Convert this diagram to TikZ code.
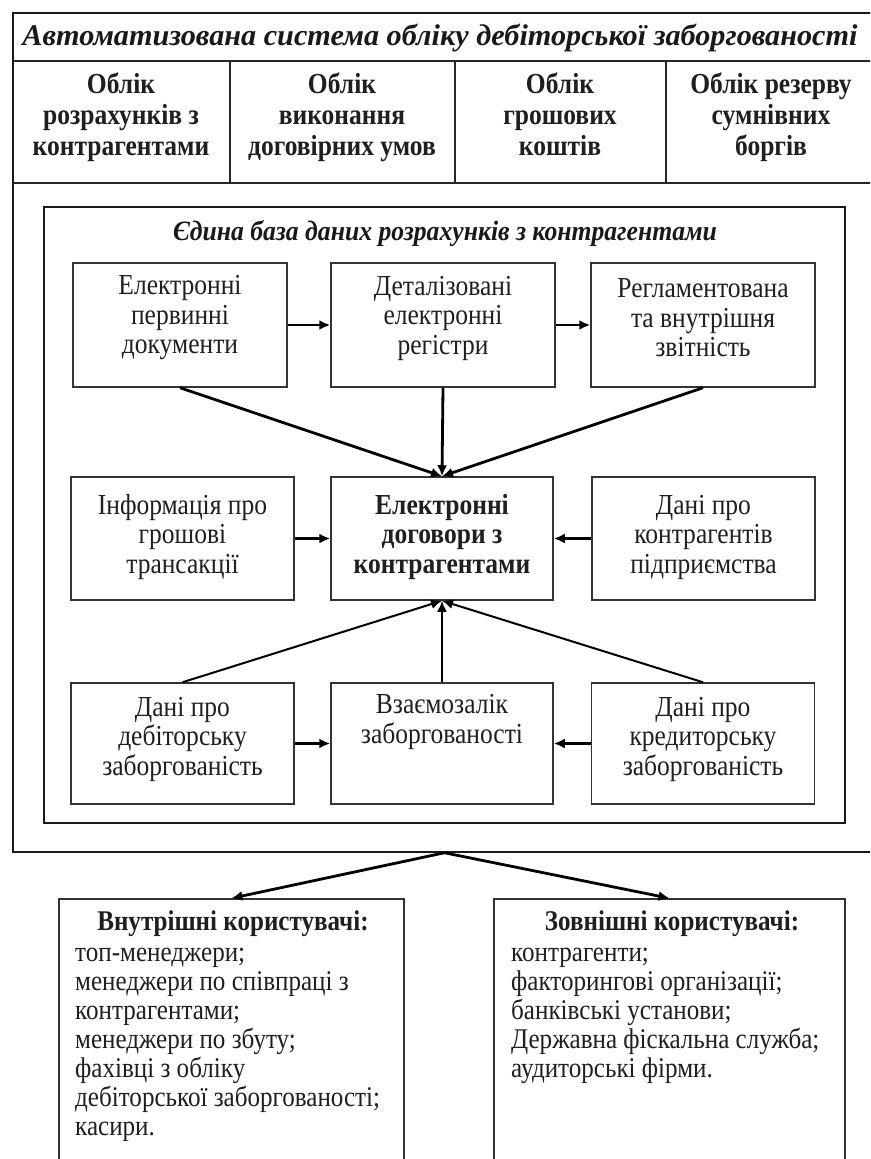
\documentclass[tikz,border=0pt]{standalone}
\usepackage{fontspec}
\usepackage{graphicx}
\setmainfont{Liberation Serif}[FakeStretch=0.88]
\usetikzlibrary{arrows.meta}
\newcommand\fsN{\fontsize{29pt}{29.5pt}\selectfont\lineskiplimit=-20pt\relax}
\newcommand\fsH{\fontsize{29pt}{31pt}\selectfont\lineskiplimit=-20pt\relax\bfseries}
\newcommand\fsU{\fontsize{28.5pt}{29pt}\selectfont\lineskiplimit=-20pt\relax}
\tikzset{
  frame/.style={draw=black!90, line width=1.5pt, rectangle, inner sep=0pt},
  box/.style={draw=black!80, line width=1.5pt, rectangle, inner sep=0pt},
  txt/.style={align=center, font=\fsN, text=black!88, inner sep=0pt},
  htxt/.style={align=center, font=\fsH, text=black!88, inner sep=0pt, anchor=north},
  utxt/.style={align=left, font=\fsU, text=black!88, inner sep=0pt},
  arr/.style={line width=2.8pt, -{Latex[length=11pt,width=10pt]}},
  thinarr/.style={line width=2pt, -{Latex[length=11pt,width=10pt]}},
  rule/.style={draw=black!85, line width=1.5pt},
}
\begin{document}
\begin{tikzpicture}[x=1pt,y=-1pt]
\useasboundingbox (0,0) rectangle (870,1159);
\clip (0,0) rectangle (870,1159);
\fill[white] (0,0) rectangle (870,1159);

% outer frame
\node[frame, minimum width=863pt, minimum height=839pt] (outer) at (444.5,432.5) {};
\draw[rule] (13,61) -- (876,61);
\draw[rule] (13,183) -- (876,183);
\draw[rule] (230,61) -- (230,183);
\draw[rule] (455,61) -- (455,183);
\draw[rule] (666,61) -- (666,183);

\node[inner sep=0pt, text=black!90, font=\fontsize{30pt}{30pt}\selectfont\bfseries\itshape] (title) at (440,38)
  {\resizebox{835pt}{\height}{Автоматизована система обліку дебіторської заборгованості}};

\node[htxt] (c1) at (121,73) {Облік\\розрахунків з\\контрагентами};
\node[htxt] (c2) at (342,73) {Облік\\виконання\\договірних умов};
\node[htxt] (c3) at (560,73) {Облік\\грошових\\коштів};
\node[htxt] (c4) at (771,73) {Облік резерву\\сумнівних\\боргів};

% inner frame
\node[frame, minimum width=801pt, minimum height=616pt] (inner) at (444.5,515) {};
\node[inner sep=0pt, text=black!90, font=\fontsize{28pt}{30pt}\selectfont\bfseries\itshape] (ititle) at (445,233)
  {\resizebox{544pt}{\height}{Єдина база даних розрахунків з контрагентами}};

% top row
\node[box, minimum width=214pt, minimum height=124pt] (ep) at (180,325) {};
\node[box, minimum width=224pt, minimum height=124pt] (dr) at (443,325) {};
\node[box, minimum width=224pt, minimum height=124pt] (rz) at (703,325) {};
\node[txt] (ept) at (180,318) {Електронні\\первинні\\документи};
\node[txt] (drt) at (443,318) {Деталізовані\\електронні\\регістри};
\node[txt] (rzt) at (703,318) {Регламентована\\та внутрішня\\звітність};

% middle row
\node[box, minimum width=223pt, minimum height=123pt] (ig) at (182.5,538.5) {};
\node[box, minimum width=222pt, minimum height=123pt] (ed) at (442,538.5) {};
\node[box, minimum width=223pt, minimum height=123pt] (dk) at (703.5,538.5) {};
\node[txt] (igt) at (182.5,537) {Інформація про\\грошові\\трансакції};
\node[txt, font=\fsN\bfseries] (edt) at (442,537) {Електронні\\договори з\\контрагентами};
\node[txt] (dkt) at (703.5,537) {Дані про\\контрагентів\\підприємства};

% bottom row
\node[box, minimum width=223pt, minimum height=121pt] (dd) at (182.5,743.5) {};
\node[box, minimum width=222pt, minimum height=121pt] (vz) at (442,743.5) {};
\node[box, minimum width=223pt, minimum height=121pt] (kd) at (703,743.5) {};
\node[txt] (ddt) at (182.5,739) {Дані про\\дебіторську\\заборгованість};
\node[txt] (vzt) at (442,722) {Взаємозалік\\заборгованості};
\node[txt] (kdt) at (703,739) {Дані про\\кредиторську\\заборгованість};

% connectors
\draw[arr] (ep.east) -- (dr.west);
\draw[arr] (dr.east) -- (rz.west);
\draw[arr] (ep.south) -- (ed.north);
\draw[arr] (dr.south) -- (ed.north);
\draw[arr] (rz.south) -- (ed.north);
\draw[arr] (ig.east) -- (ed.west);
\draw[arr] (dk.west) -- (ed.east);
\draw[thinarr] (dd.north) -- (ed.south);
\draw[thinarr] (vz.north) -- (ed.south);
\draw[thinarr] (kd.north) -- (ed.south);
\draw[arr] (dd.east) -- (vz.west);
\draw[arr] (kd.west) -- (vz.east);

% users
\node[box, minimum width=345pt, minimum height=276pt] (vu) at (231.5,1037) {};
\node[box, minimum width=351pt, minimum height=276pt] (zu) at (669.5,1037) {};
\draw[arr] (outer.south) -- (vu.north);
\draw[arr] (outer.south) -- (zu.north);

\node[txt, font=\fsU\bfseries] (vuh) at (233,924) {Внутрішні користувачі:};
\node[utxt, anchor=north west] (vul) at (75,948) {топ-менеджери;\\менеджери по співпраці з\\контрагентами;\\менеджери по збуту;\\фахівці з обліку\\дебіторської заборгованості;\\касири.};
\node[txt, font=\fsU\bfseries] (zuh) at (672,924) {Зовнішні користувачі:};
\node[utxt, anchor=north west] (zul) at (511,948) {контрагенти;\\факторингові організації;\\банківські установи;\\Державна фіскальна служба;\\аудиторські фірми.};
\end{tikzpicture}
\end{document}
